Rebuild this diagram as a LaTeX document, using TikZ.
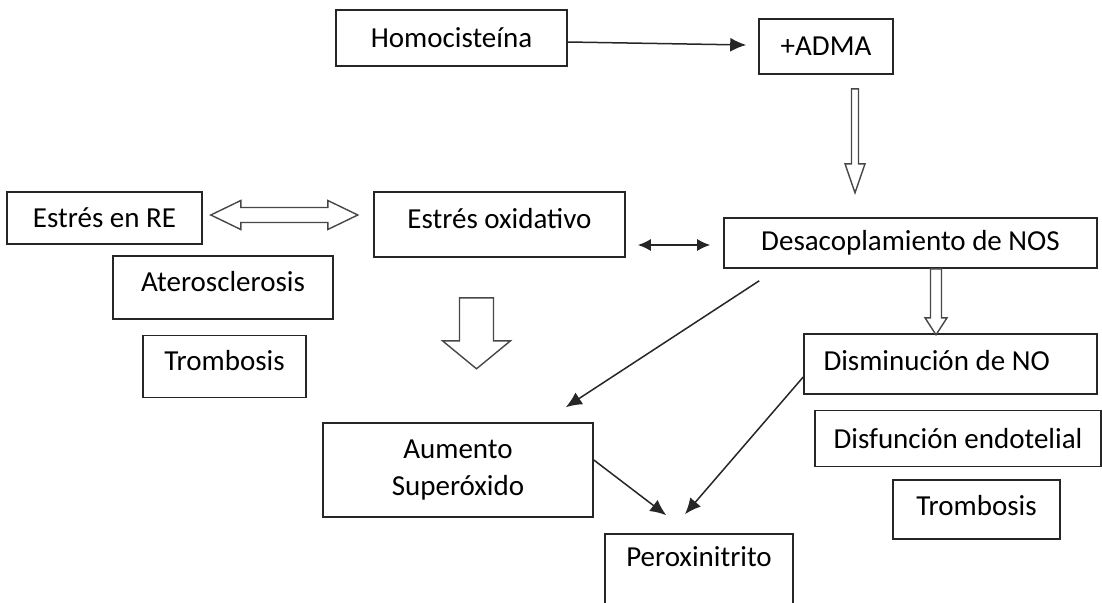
\documentclass[tikz,border=0pt]{standalone}
\usepackage{fontspec}
\setmainfont{Carlito}
\usepackage{tikz}
\usetikzlibrary{arrows.meta, calc, positioning}
\usepackage{xcolor}
\definecolor{BoxGray}{HTML}{262626}
\definecolor{ArrowGray}{HTML}{474747}
\tikzset{%
  box_node/.style={%
    rectangle,%
    draw=BoxGray,%
    line width=1.6pt,%
    inner sep=0pt,%
    font={\fontsize{29pt}{37pt}\selectfont},%
    align=center%
  },
  hollow_arrow/.style={%
    draw=ArrowGray,%
    fill=white,%
    line width=1.4pt,%
    line join=miter%
  },
  thin_path/.style={%
    color=BoxGray,%
    line width=1.5pt%
  },
  arrow/.style={-{Latex[length=16pt, width=14pt]}},
  arrow_both/.style={{Latex[length=13pt, width=12pt]}-{Latex[length=13pt, width=12pt]}},
}

\begin{document}
\begin{tikzpicture}[x=1pt, y=-1pt]
    \useasboundingbox (0,0) rectangle (1102,602);
    \node [box_node, minimum width=231pt, minimum height=56pt] (Homocisteina) at (451.5,38) {Homocisteína};
    \node [box_node, minimum width=134pt, minimum height=55pt] (ADMA) at (826,46.5) {+ADMA};
    \node [box_node, minimum width=195pt, minimum height=52pt] (EstresRE) at (104.5,218) {Estrés en RE};
    \node [box_node, minimum width=251pt, minimum height=65pt, text depth=12pt] (EstresOx) at (499.5,224.5) {Estrés oxidativo};
    \node [box_node, minimum width=373pt, minimum height=50pt] (Desacoplamiento) at (910.5,243) {Desacoplamiento de NOS};
    \node [box_node, minimum width=220pt, minimum height=63pt, text depth=12pt] (Aterosclerosis) at (223,287.5) {Aterosclerosis};
    \node [box_node, minimum width=163pt, minimum height=62pt, text depth=12pt, below=15pt of Aterosclerosis, xshift=1.5pt] (TrombosisL) {Trombosis};
    \node [box_node, text width=254pt, inner xsep=19.5pt, align=flush left, minimum height=60pt, text depth=8pt] (Disminucion) at (950.5,364) {Disminución de NO};
    \node [box_node, minimum width=286pt, minimum height=56pt, below=15pt of Disminucion, xshift=7.5pt] (Disfuncion) {Disfunción endotelial};
    \node [box_node, minimum width=167pt, minimum height=59pt, text depth=8pt, below=12pt of Disfuncion, xshift=18.5pt] (TrombosisR) {Trombosis};
    \node [box_node, minimum width=270pt, minimum height=94pt] (Aumento) at (458,470) {Aumento\\Superóxido};
    \node [box_node, minimum width=188pt, minimum height=91pt, text depth=45pt] (Peroxinitrito) at (699,579.5) {Peroxinitrito};

    % hollow arrows
    \draw [hollow_arrow]
      ([xshift=25.5pt, yshift=-14pt]ADMA.south)
      -- ++(0,75) -- ++(-6.5,0) -- ++(10,29) -- ++(10,-29) -- ++(-6.5,0) -- ++(0,-75) -- cycle;
    \draw [hollow_arrow]
      ([xshift=-40pt, yshift=-40pt]EstresOx.south)
      -- ++(0,43) -- ++(-17,0) -- ++(34,28) -- ++(34,-28) -- ++(-17,0) -- ++(0,-43) -- cycle;
    \draw [hollow_arrow]
      ([xshift=20pt]Desacoplamiento.south)
      -- ++(0,49) -- ++(-5.5,0) -- ++(11,17) -- ++(11,-17) -- ++(-5.5,0) -- ++(0,-49) -- cycle;
    \draw [hollow_arrow]
      ([xshift=8pt, yshift=3pt]EstresRE.east)
      -- ++(30,-14.5) -- ++(0,7) -- ++(87,0) -- ++(0,-7) -- ++(30,14.5)
      -- ++(-30,14.5) -- ++(0,-7) -- ++(-87,0) -- ++(0,7) -- cycle;

    % plain arrows
    \draw [arrow, thin_path]
      ([yshift=-4pt]Homocisteina.east)
      --
      ([xshift=-12pt, yshift=1.5pt]ADMA.west);
    \draw [arrow_both, thin_path]
      ([xshift=12pt, yshift=-20.5pt]EstresOx.east)
      --
      ([xshift=-13pt, yshift=-2pt]Desacoplamiento.west);
    \draw [arrow, thin_path]
      ([xshift=36pt, yshift=-12pt]Desacoplamiento.south west)
      --
      ([xshift=-28pt, yshift=15pt]Aumento.north east);
    \draw [arrow, thin_path]
      ([yshift=10pt]Aumento.east)
      --
      ([xshift=62pt, yshift=18pt]Peroxinitrito.north west);
    \draw [arrow, thin_path]
      ([yshift=-13pt]Disminucion.west)
      --
      ([xshift=-14pt, yshift=19pt]Peroxinitrito.north);
\end{tikzpicture}
\end{document}
